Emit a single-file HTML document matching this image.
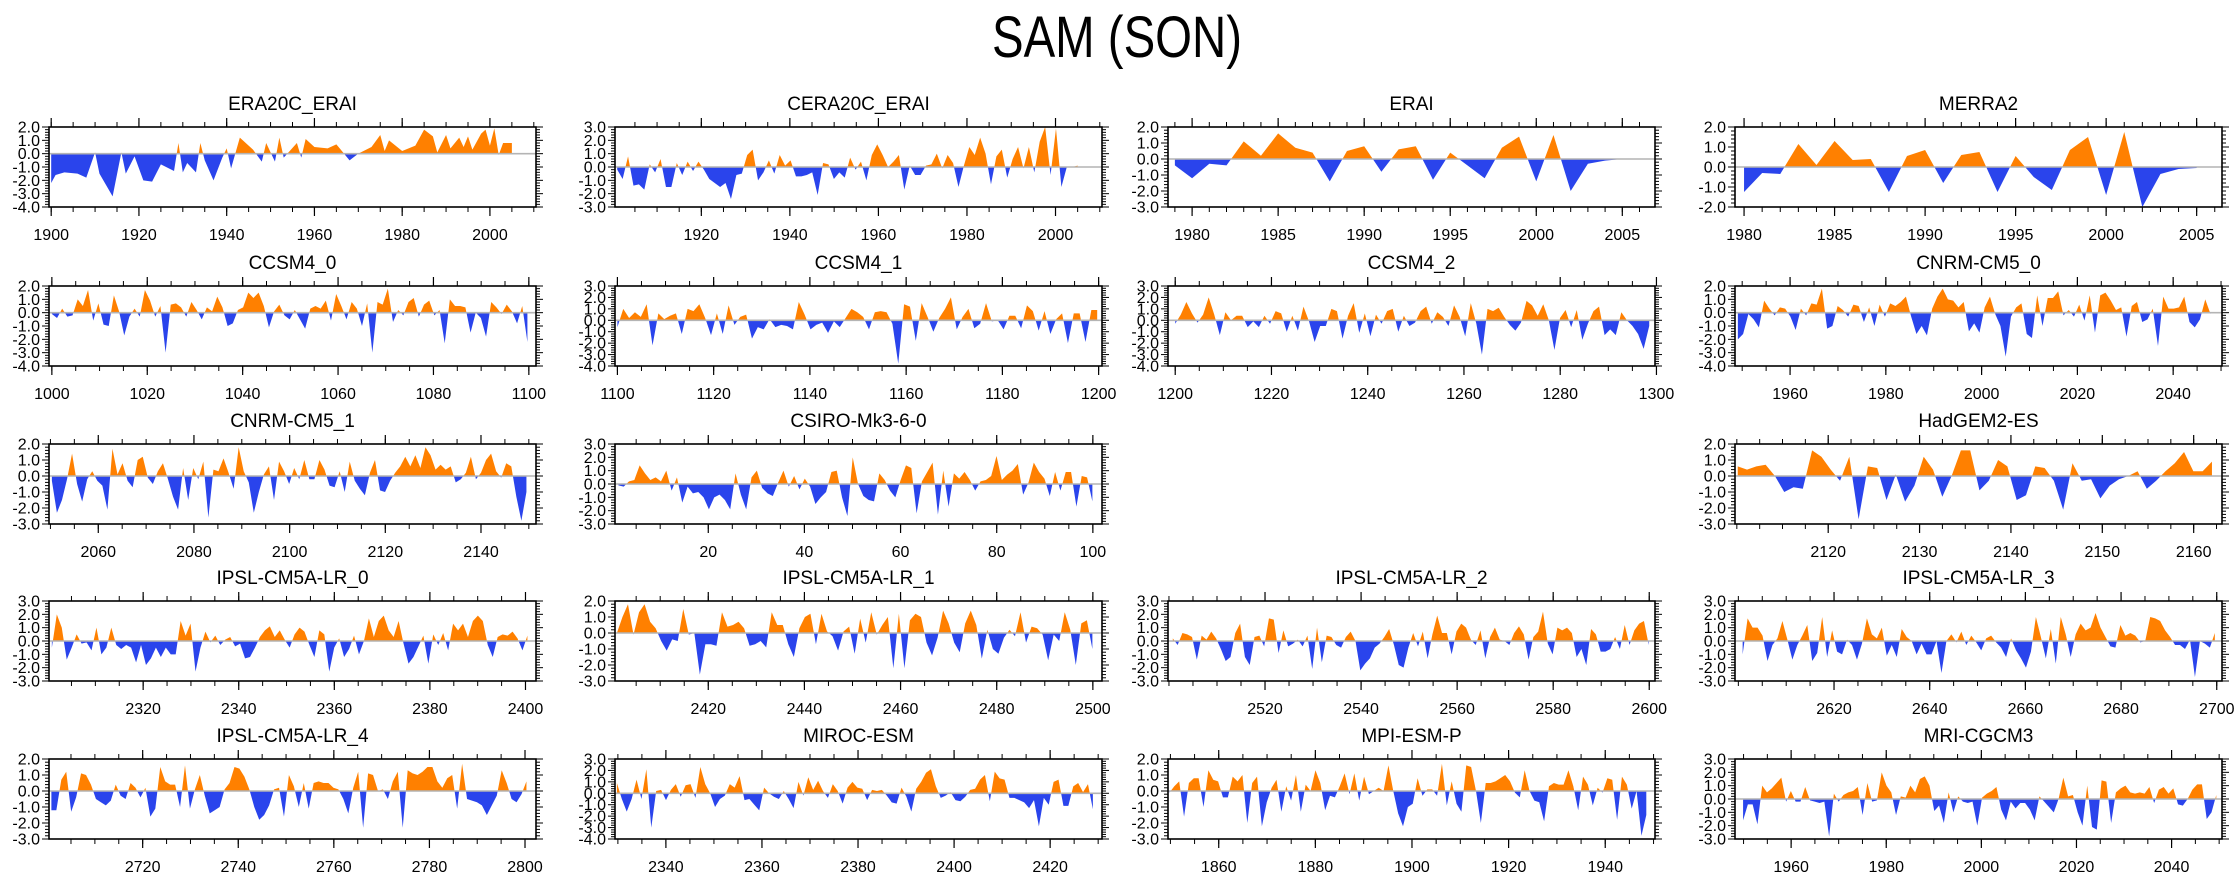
<!DOCTYPE html>
<html><head><meta charset="utf-8"><title>SAM (SON)</title>
<style>
html,body{margin:0;padding:0;background:#fff;}
svg{display:block;font-family:"Liberation Sans",Arial,sans-serif;}
</style></head>
<body>
<svg id="chart" width="2238" height="877" viewBox="0 0 2238 877" xmlns="http://www.w3.org/2000/svg">
<rect x="0" y="0" width="2238" height="877" fill="#fff"/>
<text x="1117" y="57" text-anchor="middle" font-size="58" textLength="250" lengthAdjust="spacingAndGlyphs">SAM (SON)</text>
</svg>
<script>
// ---- data (SAM index anomalies) ----
const era20cYears = [1900,1901,1903,1906,1908,1910,1911,1914,1916,1917,1919,1921,1923,1925,1928,1929,1930,1931,1933,1934,1935,1937,1939,1940,1941,1943,1946,1948,1949,1951,1952,1953,1956,1957,1958,1960,1963,1965,1966,1968,1970,1973,1975,1976,1977,1980,1983,1985,1987,1988,1990,1991,1993,1994,1995,1996,1998,1999,2000,2001,2002,2003,2005];
const era20cVals = [-2.2,-1.6,-1.4,-1.5,-1.8,0.1,-1.5,-3.2,0.1,-1.5,-0.2,-2.0,-2.1,-0.8,-1.3,0.8,-1.4,-0.7,-1.4,0.8,-0.5,-2.0,-0.3,0.4,-1.1,1.2,0.3,-0.6,0.8,-0.6,1.2,-0.3,0.8,-0.3,1.1,0.5,0.4,0.7,0.3,-0.5,0.0,0.5,1.4,0.2,1.0,0.2,0.6,1.8,1.3,0.1,1.4,0.4,1.2,0.5,1.3,0.3,1.5,1.8,0.6,1.9,-0.1,0.8,0.8];
const ceraVals = [-0.2,-0.9,0.8,-1.4,-1.3,-1.7,0.2,-0.4,0.6,-1.5,-1.5,0.3,-0.6,0.4,-0.3,0.4,-0.2,-0.9,-1.2,-1.5,-1.2,-2.4,-0.6,-0.5,0.9,1.3,-1.0,-0.4,0.5,-0.5,0.9,0.1,0.5,-0.7,-0.7,-0.6,-0.4,-2.1,0.3,0.2,-0.9,-0.4,-0.8,0.7,-0.2,0.4,-1.0,0.9,1.7,0.9,0.0,0.4,0.9,-1.7,0.1,-0.6,-0.6,0.1,0.2,1.0,-0.1,0.9,0.3,-1.5,0.1,1.5,0.9,2.2,1.0,-1.3,0.8,1.3,-0.8,0.6,1.5,-0.1,1.5,-0.4,1.9,3.0,-0.6,2.9,-1.5,0.0,0.0,0.1];
const eraiYears = [1979,1980,1981,1982,1983,1984,1985,1986,1987,1988,1989,1990,1991,1992,1993,1994,1995,1996,1997,1998,1999,2000,2001,2002,2003,2004,2005,2006];
const eraiVals = [-0.4,-1.2,-0.3,-0.4,1.1,0.2,1.6,0.7,0.4,-1.4,0.5,0.8,-0.8,0.6,0.8,-1.3,0.4,-0.4,-1.2,0.7,1.4,-1.4,1.5,-2.0,-0.3,-0.1,0.0,0.0];
const merraYears = [1980,1981,1982,1983,1984,1985,1986,1987,1988,1989,1990,1991,1992,1993,1994,1995,1996,1997,1998,1999,2000,2001,2002,2003,2004,2005];
const merraVals = [-1.25,-0.3,-0.35,1.15,0.1,1.3,0.35,0.4,-1.25,0.55,0.85,-0.8,0.6,0.75,-1.25,0.55,-0.5,-1.15,0.85,1.5,-1.4,1.75,-2.0,-0.35,-0.1,-0.05];
const ccsm0Vals = [-0.1,-0.4,0.3,-0.3,-0.2,1.0,0.5,1.7,-0.6,0.7,-0.9,-1.0,1.3,0.1,-1.7,-0.3,0.3,-0.3,1.7,0.9,-0.3,0.5,-3.0,0.6,0.7,0.4,-0.3,0.8,0.2,-0.5,0.4,0.1,1.2,0.4,-1.0,-0.8,0.2,0.4,1.5,1.1,1.5,0.5,-1.1,0.1,0.6,-0.2,-0.5,0.2,-0.5,-1.2,0.3,0.5,0.3,0.9,-0.6,1.4,0.5,-0.5,0.8,0.3,-1.0,0.7,-3.0,0.8,0.6,1.8,-0.7,0.2,-0.2,0.8,1.1,-0.3,0.6,0.9,-0.2,0.2,-2.3,1.0,0.5,0.5,0.4,-1.5,0.0,-0.4,-1.8,0.8,0.4,-0.1,0.6,0.1,-0.8,0.5,-2.2];
const ccsm1Vals = [-0.6,1.0,0.2,0.7,0.3,1.4,-2.2,0.6,0.1,0.4,0.6,-1.2,1.0,0.8,1.4,0.2,-1.3,0.6,-1.2,1.3,-0.4,0.3,0.5,-1.6,-0.6,-0.8,0.1,-0.6,-0.4,-0.5,-0.8,1.6,0.5,-0.8,-0.4,-0.2,-1.1,-0.1,-0.6,0.2,1.0,0.7,0.3,-0.8,0.7,0.8,0.7,-0.3,-3.8,1.4,1.2,-1.8,1.5,0.3,-1.0,0.2,1.0,2.0,-0.8,0.3,1.0,-0.7,-0.3,1.5,-0.1,0.0,-0.8,0.4,0.4,-0.7,1.3,0.8,-0.9,0.8,-1.2,0.1,0.6,-2.0,0.6,0.6,-1.9,0.9,0.9];
const ccsm2Vals = [-0.3,0.5,1.6,0.6,-0.2,0.5,2.0,0.5,-1.3,0.7,0.0,0.4,0.4,-0.6,-0.1,-0.6,0.4,-0.3,0.8,0.6,-1.0,0.4,-0.9,1.2,-0.1,-1.9,-0.5,-0.5,1.0,0.8,-1.6,0.4,1.5,-1.1,0.6,-1.4,0.5,-0.3,0.8,1.0,-1.0,0.4,-0.5,-0.2,0.8,1.2,-0.3,0.7,0.3,-0.5,1.3,0.3,-1.4,1.5,-0.3,-3.0,1.0,0.8,1.1,0.3,-0.4,-0.9,-0.2,1.7,1.3,0.4,1.4,0.0,-2.6,0.2,0.9,-0.6,0.9,-1.7,-0.3,0.8,1.2,-1.3,-0.8,-1.3,0.7,0.0,-0.5,-1.2,-2.5,-0.5];
const cnrm0Vals = [-2.0,-1.6,-0.1,-0.5,-1.1,0.9,0.3,-0.2,0.4,0.3,-0.3,-1.3,0.3,-0.2,0.7,0.6,1.8,-1.2,-1.0,0.5,0.2,-0.3,0.6,0.5,-0.7,0.4,-1.0,0.6,-0.3,0.7,0.5,0.8,1.2,-0.3,-1.6,-1.0,-1.7,0.3,1.2,1.8,1.0,0.9,0.4,0.8,-1.4,-0.8,-1.5,0.4,1.2,-0.1,-1.0,-3.3,-0.3,0.4,0.7,-1.6,-1.9,1.3,-1.0,1.1,1.1,1.6,-0.2,0.2,-0.3,0.6,-0.6,1.3,-1.5,1.3,1.5,0.9,0.2,0.4,-1.8,0.5,0.8,-0.7,-0.5,0.3,-2.5,1.2,0.3,0.3,0.4,1.2,-0.7,-1.1,-0.5,1.0,-0.1];
const cnrm1Vals = [-0.3,-2.3,-1.5,-0.2,1.4,-0.5,-1.6,-0.2,0.3,-0.3,-0.6,-2.1,1.7,0.1,0.8,-0.3,-0.7,1.0,1.2,-0.1,-0.5,0.3,0.8,-0.2,-1.3,-2.1,0.5,-1.5,0.5,-0.2,0.9,-2.6,0.4,0.3,1.1,0.2,-0.8,1.8,0.3,-0.4,-2.3,-1.0,0.1,0.6,-1.5,0.9,0.3,-0.5,0.5,-0.2,1.0,-0.2,-0.2,1.0,0.4,-0.6,-0.7,0.3,-1.0,0.9,-0.3,-0.8,-1.2,0.2,1.0,-0.9,-1.0,-0.3,0.2,0.6,1.2,0.6,1.3,0.5,1.8,1.3,0.4,0.7,0.4,0.6,-0.4,-0.2,0.2,1.2,-0.2,0.2,1.0,1.4,0.3,-0.1,0.8,0.6,-1.3,-2.8,-1.0];
const csiroVals = [-0.1,-0.2,0.2,0.3,1.4,0.8,0.3,0.5,0.2,1.0,-0.5,0.5,-1.4,-0.2,-0.7,-0.6,-1.0,-1.9,-1.0,-0.8,-1.2,-1.9,0.8,-0.8,-1.9,0.5,1.0,-0.3,-0.7,-0.9,0.1,1.0,-0.2,0.6,-0.4,0.4,-0.2,-1.5,-1.0,-0.6,0.9,1.0,-1.0,-2.4,2.0,0.0,-0.9,-1.2,-1.3,0.8,0.3,-0.5,-1.0,0.3,1.4,1.2,-2.2,0.2,0.9,1.6,-2.3,1.0,-1.7,0.8,0.4,0.9,0.3,-0.5,0.2,0.3,0.6,2.1,0.3,0.7,1.0,1.5,-0.8,0.1,1.6,0.9,0.4,-0.9,0.9,-0.5,0.9,0.9,-1.7,0.6,0.5,-1.3];
const hadgemVals = [0.6,0.4,0.6,0.7,0.0,-1.0,-0.7,-0.8,1.6,1.2,0.4,-0.3,1.2,-2.7,0.6,0.5,-1.5,0.1,-1.6,-0.6,1.2,0.4,-1.3,0.0,1.6,1.6,-0.9,-0.3,1.0,0.6,-1.5,-1.2,0.6,0.5,-0.3,-2.1,0.8,-0.3,-0.2,-1.4,-0.6,-0.2,0.0,0.3,-0.8,-0.3,0.3,0.8,1.5,0.3,0.3,0.9];
const ipsl0Vals = [-0.5,2.0,1.0,-1.4,-0.5,0.5,-0.2,-0.1,-0.7,1.0,-1.0,-0.5,1.0,-0.3,-0.6,-0.3,-0.5,-1.6,-0.3,-1.8,-1.3,-0.5,-1.2,-0.5,-1.0,-1.0,1.5,0.4,1.3,-2.3,-0.5,0.7,-0.1,0.4,-0.3,0.1,0.3,-0.4,-0.2,-1.3,-1.2,-0.5,0.3,0.8,1.1,0.3,0.8,0.1,-0.5,0.5,1.0,0.7,-0.3,-1.2,0.8,0.5,-2.3,-0.5,0.2,-1.2,-0.6,0.4,-1.0,0.0,1.7,0.3,1.5,1.9,0.8,0.3,1.5,-0.2,-1.7,-1.2,-0.4,0.4,-1.7,0.5,-0.3,0.6,-0.7,1.3,0.8,1.3,0.3,1.5,1.9,1.5,-0.3,-1.2,0.3,0.5,0.4,0.7,0.2,-0.7,0.4];
const ipsl1Vals = [0.0,1.0,1.8,-0.1,1.3,1.8,0.7,0.3,-0.5,-1.1,-0.4,-0.5,1.5,-0.1,0.0,-2.6,-0.7,-0.7,-0.8,1.3,0.4,0.5,0.7,0.3,-0.8,-0.7,-0.5,-0.9,1.3,0.5,0.5,-0.7,-1.5,0.3,1.0,1.2,-0.7,1.2,0.1,-0.2,-1.1,0.1,0.4,-1.3,0.9,-0.6,1.3,-0.1,0.5,1.0,-2.2,1.2,-2.2,0.8,1.2,1.0,-0.6,-1.4,-0.3,1.4,0.6,-0.6,-1.2,0.6,1.4,0.5,-1.6,0.2,-1.0,-1.3,-0.3,0.2,-0.2,1.3,-0.6,0.4,0.3,-0.1,-1.7,-0.1,-0.5,1.3,0.2,-2.0,0.6,0.8,-1.0];
const ipsl2Vals = [0.2,-0.3,0.6,0.5,0.3,-1.4,0.4,0.1,0.7,0.2,-0.6,-1.5,-1.2,0.6,1.3,-1.2,-1.8,0.3,0.4,-0.4,1.7,1.6,-0.9,0.8,-0.4,-0.2,0.1,-0.4,0.4,-2.1,1.0,-1.6,0.4,0.3,-0.3,-0.5,0.3,0.7,0.0,-2.2,-1.7,-1.3,-0.5,-0.2,0.3,0.9,-0.3,-1.8,-2.0,-0.5,0.6,-0.4,0.7,-1.3,0.5,1.9,0.6,0.6,-1.0,0.7,1.3,1.0,0.1,-0.3,0.8,-1.3,0.3,1.0,0.1,0.0,-0.3,0.6,1.1,0.5,-1.4,0.3,0.7,2.2,-0.2,-1.0,1.0,0.8,1.0,0.6,-1.2,-0.6,-1.8,0.9,0.5,-0.8,-0.8,-0.6,0.3,-0.6,1.2,-0.3,0.8,1.3,1.5,-0.3];
const ipsl3Vals = [-1.0,1.7,1.0,1.0,0.4,-1.5,-0.3,0.2,1.5,0.1,-1.4,-0.3,0.4,1.2,-1.5,-0.9,1.8,-1.2,0.8,-0.8,-1.0,0.1,-0.3,-1.4,-0.2,1.7,0.5,0.2,1.0,-1.1,-0.3,-1.2,0.9,0.3,0.0,-1.0,-0.2,-1.0,-1.0,0.0,-2.4,0.0,0.5,-0.1,0.7,-0.3,0.4,-0.1,-0.7,0.2,0.4,-0.1,-0.5,-1.2,0.2,-0.7,-1.3,-2.0,-0.8,1.8,0.3,-1.3,0.9,-1.7,1.8,0.5,-1.2,0.5,1.3,0.8,1.0,2.1,1.0,0.3,-0.4,-0.5,1.2,0.4,0.6,0.4,-0.1,0.0,1.8,1.7,1.5,0.8,0.3,-0.3,-0.3,-0.6,0.1,-2.7,0.0,-0.2,-0.5,0.6];
const ipsl4Vals = [-1.2,-1.2,0.7,1.2,-1.3,-0.4,1.1,1.0,0.4,-0.5,-0.7,-0.9,-0.6,0.4,-0.3,-0.5,0.5,0.2,-0.4,0.2,-1.6,-1.1,1.5,0.6,0.4,0.4,-1.0,1.6,-1.1,0.1,1.0,-0.3,-1.4,-1.2,-1.0,0.1,0.5,1.5,1.4,0.9,0.1,-1.0,-1.8,-1.5,-0.9,0.1,0.2,-1.6,1.0,0.3,-1.0,0.5,-1.1,0.5,0.6,0.5,0.5,0.2,0.1,-0.5,-1.4,0.2,1.2,-2.3,1.1,1.0,0.0,0.1,-0.5,0.6,1.2,-2.3,1.3,1.1,1.0,1.2,1.5,1.5,0.6,0.2,0.8,1.0,-1.1,1.7,-0.5,-0.6,-0.7,-0.9,-1.5,-0.9,-0.3,1.3,0.5,-0.5,-0.7,-0.2,0.6];
const mirocVals = [0.9,-0.5,-1.6,-0.5,1.2,-0.5,2.1,-3.0,0.2,0.3,-0.6,0.3,0.8,-0.3,0.7,0.8,-0.4,2.3,0.8,0.0,-1.2,-0.5,-0.2,0.8,0.5,1.5,-0.6,-0.5,-1.0,-1.5,0.5,0.0,-0.3,-0.5,0.2,-0.5,-1.3,1.0,-0.2,1.4,0.3,1.1,0.2,-0.4,0.8,0.2,-0.9,0.5,1.0,0.5,0.4,-0.6,0.3,0.2,0.3,-0.2,-0.8,-0.9,0.5,-0.3,-1.6,0.4,1.0,1.8,2.1,0.6,-0.4,-0.2,0.1,-0.6,-0.7,-0.3,0.3,0.4,1.2,1.6,-0.7,1.9,1.3,1.2,-0.4,-0.4,-0.6,-0.8,-1.3,-0.6,-2.9,-0.4,-1.0,1.0,1.2,-1.1,-1.1,0.6,0.9,0.1,0.8,-1.4];
const mpiVals = [-0.1,0.3,0.6,-1.6,0.5,0.8,0.8,-1.0,1.3,0.7,0.6,-0.4,-0.4,0.9,0.6,1.0,-2.0,0.5,0.9,-2.2,-0.7,0.2,0.7,-1.3,0.3,-0.6,1.0,-1.3,0.4,0.0,1.3,0.5,-1.2,-0.3,-0.4,0.3,1.1,-0.2,1.1,-0.6,0.9,-0.2,0.0,0.2,0.0,1.6,0.0,-1.4,-2.2,-1.0,-0.8,0.8,-0.3,0.1,0.1,-0.3,1.7,-0.9,0.6,-0.8,-1.3,1.6,1.5,0.0,-2.0,0.5,0.5,0.6,0.8,1.0,0.6,-0.1,-0.4,1.3,0.0,-0.6,-0.7,-1.9,0.3,0.5,0.4,0.4,1.3,0.3,-1.2,0.9,0.4,-0.9,0.2,-0.1,0.8,0.7,-1.8,0.9,0.4,-1.1,0.0,-2.8,-1.5];
const mriVals = [-1.6,-0.4,-0.4,-1.9,1.0,0.5,0.8,1.2,1.6,-0.2,0.6,-0.2,-0.2,0.9,-0.1,-0.2,-0.3,-0.2,-2.8,0.4,-0.2,0.3,0.5,0.6,0.9,-1.2,1.2,-0.2,-0.1,2.0,1.0,0.5,-1.2,0.2,0.1,1.0,0.5,1.5,1.7,1.0,-0.9,-0.5,-1.8,0.5,-1.0,0.2,-0.2,-0.3,-0.2,-2.0,0.1,0.4,0.6,0.9,-0.8,-1.6,-0.2,-0.7,-0.3,-0.3,-0.8,-1.6,0.2,-0.2,-0.6,-1.0,0.0,1.6,0.2,0.3,-1.0,-2.0,1.0,-2.1,-2.3,1.4,1.3,-1.8,0.5,0.8,1.0,0.5,0.4,0.5,0.4,0.9,-0.3,0.7,0.9,0.4,0.8,-0.4,-0.5,0.0,0.7,1.1,1.1,-1.5,-1.0,0.3];

// tick labels
const ticksERA20C = [1900,1920,1940,1960,1980,2000];
const ticksCERA = [1920,1940,1960,1980,2000];
const ticksRean = [1980,1985,1990,1995,2000,2005];
const ticksCCSM0 = [1000,1020,1040,1060,1080,1100];
const ticksCCSM1 = [1100,1120,1140,1160,1180,1200];
const ticksCCSM2 = [1200,1220,1240,1260,1280,1300];
const ticksCNRM0 = [1960,1980,2000,2020,2040];
const ticksCNRM1 = [2060,2080,2100,2120,2140];
const ticksCSIRO = [20,40,60,80,100];
const ticksHadGEM = [2120,2130,2140,2150,2160];
const ticksIPSL0 = [2320,2340,2360,2380,2400];
const ticksIPSL1 = [2420,2440,2460,2480,2500];
const ticksIPSL2 = [2520,2540,2560,2580,2600];
const ticksIPSL3 = [2620,2640,2660,2680,2700];
const ticksIPSL4 = [2720,2740,2760,2780,2800];
const ticksMIROC = [2340,2360,2380,2400,2420];
const ticksMPI = [1860,1880,1900,1920,1940];
const ticksMRI = [1960,1980,2000,2020,2040];

const panels = [
 {t:"ERA20C_ERAI",c:0,r:0,x:[1899.5,2010.5],y:[-4,2],ticks:ticksERA20C,minor:5,years:era20cYears,v:era20cVals},
 {t:"CERA20C_ERAI",c:1,r:0,x:[1900.5,2010.5],y:[-3,3],ticks:ticksCERA,minor:5,span:[1901,2005],v:ceraVals},
 {t:"ERAI",c:2,r:0,x:[1978.6,2006.9],y:[-3,2],ticks:ticksRean,minor:1,years:eraiYears,v:eraiVals},
 {t:"MERRA2",c:3,r:0,x:[1979.5,2006.4],y:[-2,2],ticks:ticksRean,minor:1,years:merraYears,v:merraVals},
 {t:"CCSM4_0",c:0,r:1,x:[999.4,1101.5],y:[-4,2],ticks:ticksCCSM0,minor:5,span:[1000,1099.7],v:ccsm0Vals},
 {t:"CCSM4_1",c:1,r:1,x:[1099.5,1200.7],y:[-4,3],ticks:ticksCCSM1,minor:5,span:[1100,1199.7],v:ccsm1Vals},
 {t:"CCSM4_2",c:2,r:1,x:[1198.5,1299.7],y:[-4,3],ticks:ticksCCSM2,minor:5,span:[1200,1298.5],v:ccsm2Vals},
 {t:"CNRM-CM5_0",c:3,r:1,x:[1948.5,2050.2],y:[-4,2],ticks:ticksCNRM0,minor:5,span:[1949.1,2047.8],v:cnrm0Vals},
 {t:"CNRM-CM5_1",c:0,r:2,x:[2049.7,2151.5],y:[-3,2],ticks:ticksCNRM1,minor:5,span:[2050.3,2149.5],v:cnrm1Vals},
 {t:"CSIRO-Mk3-6-0",c:1,r:2,x:[0.6,101.9],y:[-3,3],ticks:ticksCSIRO,minor:5,span:[1.3,99.9],v:csiroVals},
 {t:"HadGEM2-ES",c:3,r:2,x:[2109.8,2163.1],y:[-3,2],ticks:ticksHadGEM,minor:2.5,span:[2110.1,2162],v:hadgemVals},
 {t:"IPSL-CM5A-LR_0",c:0,r:3,x:[2300.3,2402.2],y:[-3,3],ticks:ticksIPSL0,minor:5,span:[2300.9,2400.4],v:ipsl0Vals},
 {t:"IPSL-CM5A-LR_1",c:1,r:3,x:[2400.6,2501.9],y:[-3,2],ticks:ticksIPSL1,minor:5,span:[2401,2499.9],v:ipsl1Vals},
 {t:"IPSL-CM5A-LR_2",c:2,r:3,x:[2499.8,2601.2],y:[-3,3],ticks:ticksIPSL2,minor:5,span:[2500.8,2599.9],v:ipsl2Vals},
 {t:"IPSL-CM5A-LR_3",c:3,r:3,x:[2599.3,2701.1],y:[-3,3],ticks:ticksIPSL3,minor:5,span:[2600.9,2699.6],v:ipsl3Vals},
 {t:"IPSL-CM5A-LR_4",c:0,r:4,x:[2700.4,2802.3],y:[-3,2],ticks:ticksIPSL4,minor:5,span:[2700.9,2800.3],v:ipsl4Vals},
 {t:"MIROC-ESM",c:1,r:4,x:[2329.4,2430.8],y:[-4,3],ticks:ticksMIROC,minor:5,span:[2329.8,2428.9],v:mirocVals},
 {t:"MPI-ESM-P",c:2,r:4,x:[1849.5,1950.3],y:[-3,2],ticks:ticksMPI,minor:5,span:[1849.8,1948.5],v:mpiVals},
 {t:"MRI-CGCM3",c:3,r:4,x:[1948.2,2050.6],y:[-3,3],ticks:ticksMRI,minor:5,span:[1949.9,2049.4],v:mriVals}
];

const NS = "http://www.w3.org/2000/svg";
const svg = document.getElementById("chart");
const colLeft = [49,615,1168,1735];
const rowTop = [127,286,444,601,759];
const PW = 487, PH = 80;
function mk(tag, attrs, parent){
  const e = document.createElementNS(NS, tag);
  for (const k in attrs) e.setAttribute(k, attrs[k]);
  (parent||svg).appendChild(e);
  return e;
}
function slug(s){return s.toLowerCase().replace(/[^a-z0-9]+/g,'-').replace(/-+$/,'');}

panels.forEach((p, idx) => {
  const L = colLeft[p.c], T = rowTop[p.r], R = L + PW, B = T + PH;
  const sx = v => L + (v - p.x[0]) / (p.x[1] - p.x[0]) * PW;
  const sy = v => T + (p.y[1] - v) / (p.y[1] - p.y[0]) * PH;
  const n = p.v.length;
  const xs = p.years ? p.years : p.v.map((_, i) => p.span[0] + i * (p.span[1] - p.span[0]) / (n - 1));
  const g = mk("g", {});
  
  

  const title = mk("text", {x:(L+R)/2, y:T-17, "text-anchor":"middle", "font-size":"19"}, g);
  
  
  title.textContent = p.t;

  // clip paths
  const z = sy(0);
  const defs = mk("defs", {}, g);
  const cu = mk("clipPath", {id:"cu"+idx}, defs);
  mk("rect", {x:L, y:T, width:PW, height:Math.max(0, z-T)}, cu);
  const cd = mk("clipPath", {id:"cd"+idx}, defs);
  mk("rect", {x:L, y:z, width:PW, height:Math.max(0, B-z)}, cd);

  let d = "M" + sx(xs[0]).toFixed(2) + "," + z.toFixed(2);
  for (let i = 0; i < n; i++) d += " L" + sx(xs[i]).toFixed(2) + "," + sy(p.v[i]).toFixed(2);
  d += " L" + sx(xs[n-1]).toFixed(2) + "," + z.toFixed(2) + " Z";
  const pos = mk("path", {d:d, fill:"#ff8000", stroke:"none", "clip-path":"url(#cu"+idx+")"}, g);
  
  
  const neg = mk("path", {d:d, fill:"#2a44ec", stroke:"none", "clip-path":"url(#cd"+idx+")"}, g);
  
  

  const zl = mk("line", {x1:L, x2:R, y1:z, y2:z, stroke:"#b4b4b4", "stroke-width":"1.6"}, g);
  
  

  // y ticks
  const nyt = Math.round((p.y[1]-p.y[0])*5);
  for (let k = 0; k <= nyt; k++) {
    const v = p.y[0] + k*0.2, yy = sy(v), major = (k%5===0), len = major ? 7 : 4;
    mk("line", {x1:L, x2:L-len, y1:yy, y2:yy, stroke:"#000", "stroke-width":"1"}, g);
    mk("line", {x1:R, x2:R+len, y1:yy, y2:yy, stroke:"#000", "stroke-width":"1"}, g);
    if (major) {
      const lab = mk("text", {x:L-9, y:yy+5.5, "text-anchor":"end", "font-size":"16"}, g);
      
      
      lab.textContent = v.toFixed(1);
    }
  }
  // x minor ticks
  const m0 = Math.ceil(p.x[0]/p.minor)*p.minor;
  for (let v = m0; v <= p.x[1]+1e-9; v += p.minor) {
    const xx = sx(v);
    mk("line", {x1:xx, x2:xx, y1:B, y2:B+5, stroke:"#000", "stroke-width":"1"}, g);
    mk("line", {x1:xx, x2:xx, y1:T, y2:T-5, stroke:"#000", "stroke-width":"1"}, g);
  }
  // x major ticks
  p.ticks.forEach(tv => {
    const xx = sx(tv);
    mk("line", {x1:xx, x2:xx, y1:B, y2:B+9, stroke:"#000", "stroke-width":"1.2"}, g);
    mk("line", {x1:xx, x2:xx, y1:T, y2:T-9, stroke:"#000", "stroke-width":"1.2"}, g);
    const lab = mk("text", {x:xx, y:B+33, "text-anchor":"middle", "font-size":"16"}, g);
    
    
    lab.textContent = String(tv);
  });

  const box = mk("rect", {x:L, y:T, width:PW, height:PH, fill:"none", stroke:"#000", "stroke-width":"1.6"}, g);
  
  
});
</script>
</body></html>
